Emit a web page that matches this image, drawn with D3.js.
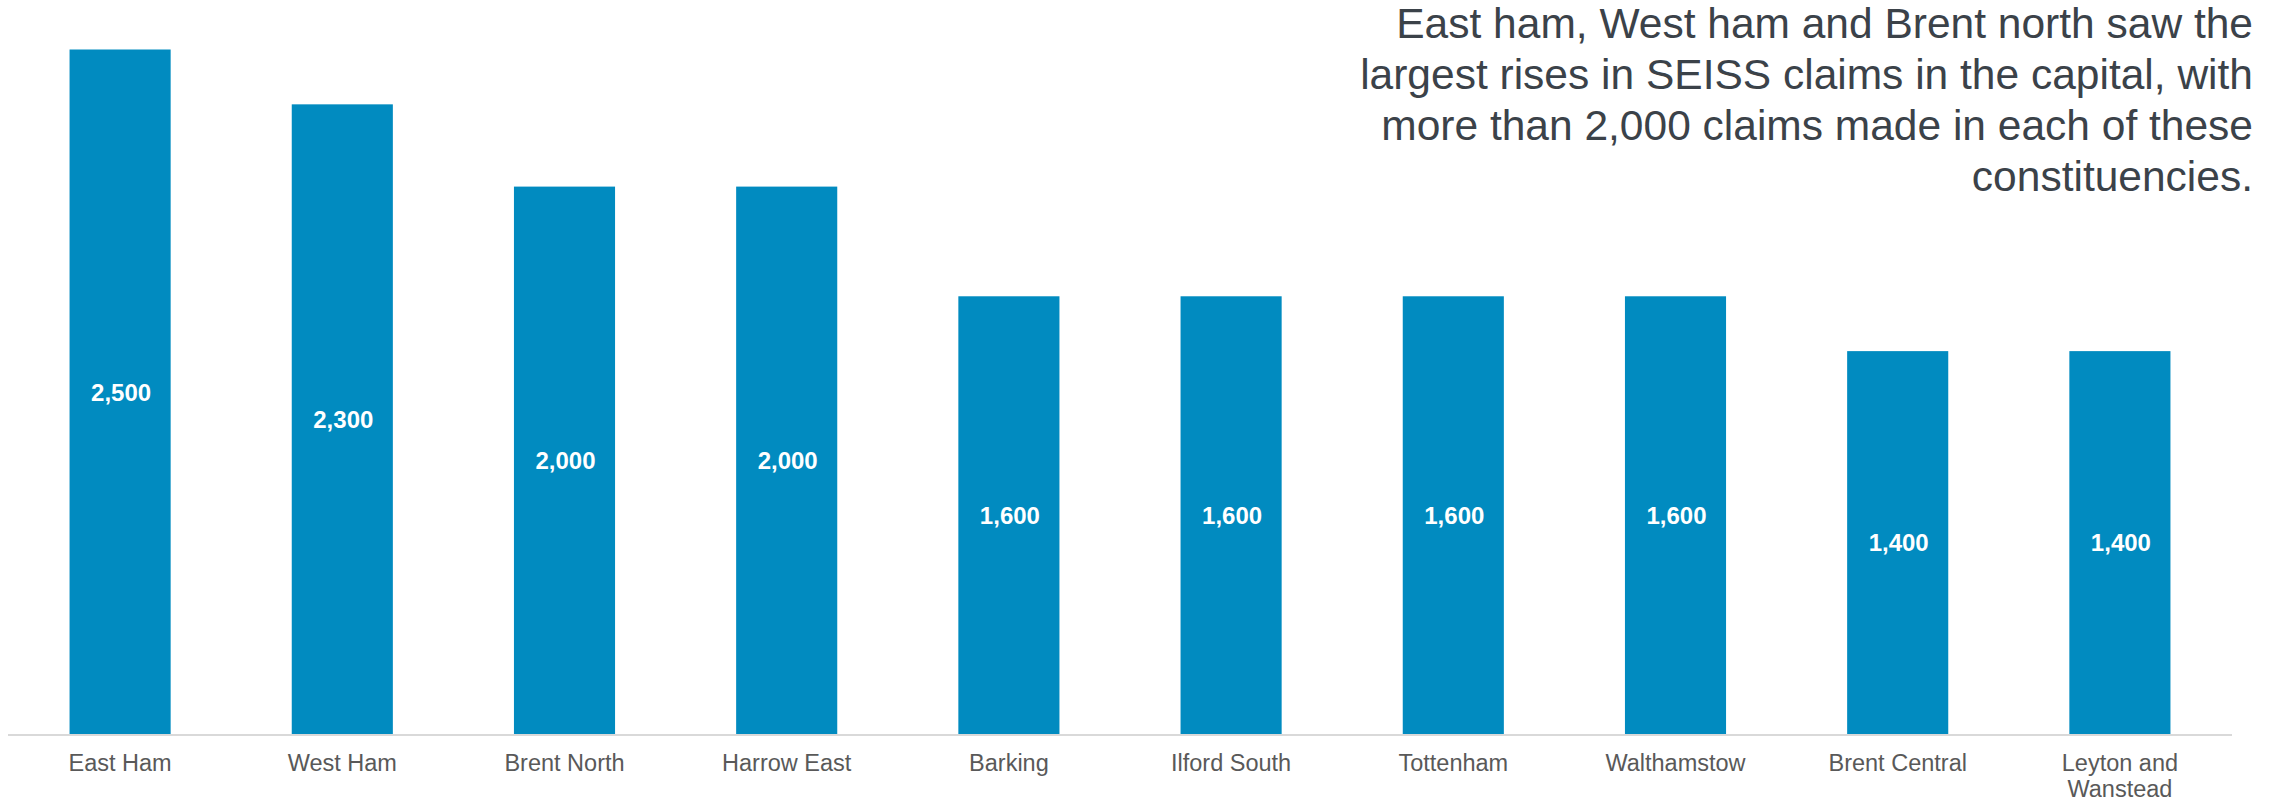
<!DOCTYPE html>
<html>
<head>
<meta charset="utf-8">
<script src="https://cdn.jsdelivr.net/npm/d3@7"></script>
<style>
  html, body { margin: 0; padding: 0; background: #ffffff; }
  svg { display: block; font-family: "Liberation Sans", Arial, Helvetica, sans-serif; }
</style>
</head>
<body>
<svg id="chart" width="2283" height="802"></svg>
<script>
// SEISS claims by London constituency
const constituencies = [
  "East Ham", "West Ham", "Brent North", "Harrow East", "Barking",
  "Ilford South", "Tottenham", "Walthamstow", "Brent Central", "Leyton and Wanstead"
];
const claims = [2500, 2300, 2000, 2000, 1600, 1600, 1600, 1600, 1400, 1400];
const titleLines = [
  "East ham, West ham and Brent north saw the",
  "largest rises in SEISS claims in the capital, with",
  "more than 2,000 claims made in each of these",
  "constituencies."
];

const svg = d3.select("#chart");
const plot = { left: 9, right: 2231, top: 49.5, bottom: 735 };

const x = d3.scaleBand()
  .domain(constituencies)
  .range([plot.left, plot.right])
  .paddingInner(0.545)
  .paddingOuter(0.2725);

const y = d3.scaleLinear()
  .domain([0, 2500])
  .range([plot.bottom, plot.top]);

const data = constituencies.map((c, i) => ({ name: c, value: claims[i] }));
const fmt = d3.format(",");

// Bars
svg.append("g")
  .selectAll("rect")
  .data(data)
  .join("rect")
  .attr("x", d => x(d.name))
  .attr("y", d => y(d.value))
  .attr("width", x.bandwidth())
  .attr("height", d => y(0) - y(d.value))
  .attr("fill", "#018BC0");

// Value labels centred in each bar
svg.append("g")
  .selectAll("text")
  .data(data)
  .join("text")
  .attr("x", d => x(d.name) + x.bandwidth() / 2 + 1)
  .attr("y", d => (y(d.value) + y(0)) / 2)
  .attr("dy", "0.35em")
  .attr("text-anchor", "middle")
  .attr("fill", "#ffffff")
  .attr("font-weight", "bold")
  .attr("font-size", 24)
  .text(d => fmt(d.value));

// Category axis
const xAxis = d3.axisBottom(x).tickSize(0).tickPadding(0);
const gx = svg.append("g")
  .attr("transform", `translate(0,${plot.bottom})`)
  .call(xAxis);
gx.select(".domain")
  .attr("stroke", "#d9d9d9")
  .attr("stroke-width", 2)
  .attr("d", `M${plot.left - 1},0H${plot.right + 1}`);
gx.selectAll(".tick text").remove();
gx.selectAll(".tick").each(function(d) {
  const words = d.split(" ");
  let lines = [d];
  if (d.length > 16) {
    lines = [words.slice(0, words.length - 1).join(" "), words[words.length - 1]];
  }
  const t = d3.select(this).append("text")
    .attr("text-anchor", "middle")
    .attr("fill", "#595959")
    .attr("font-size", 23.5)
    .attr("font-family", "\"Liberation Sans\", Arial, sans-serif");
  lines.forEach((ln, i) => {
    t.append("tspan").attr("x", 0).attr("y", 36 + i * 26).text(ln);
  });
});

// Headline text, right aligned
const title = svg.append("text")
  .attr("text-anchor", "end")
  .attr("fill", "#3b4249")
  .attr("font-size", 42.5);
titleLines.forEach((ln, i) => {
  title.append("tspan")
    .attr("x", 2253)
    .attr("y", 38 + i * 51)
    .text(ln);
});
</script>
</body>
</html>
